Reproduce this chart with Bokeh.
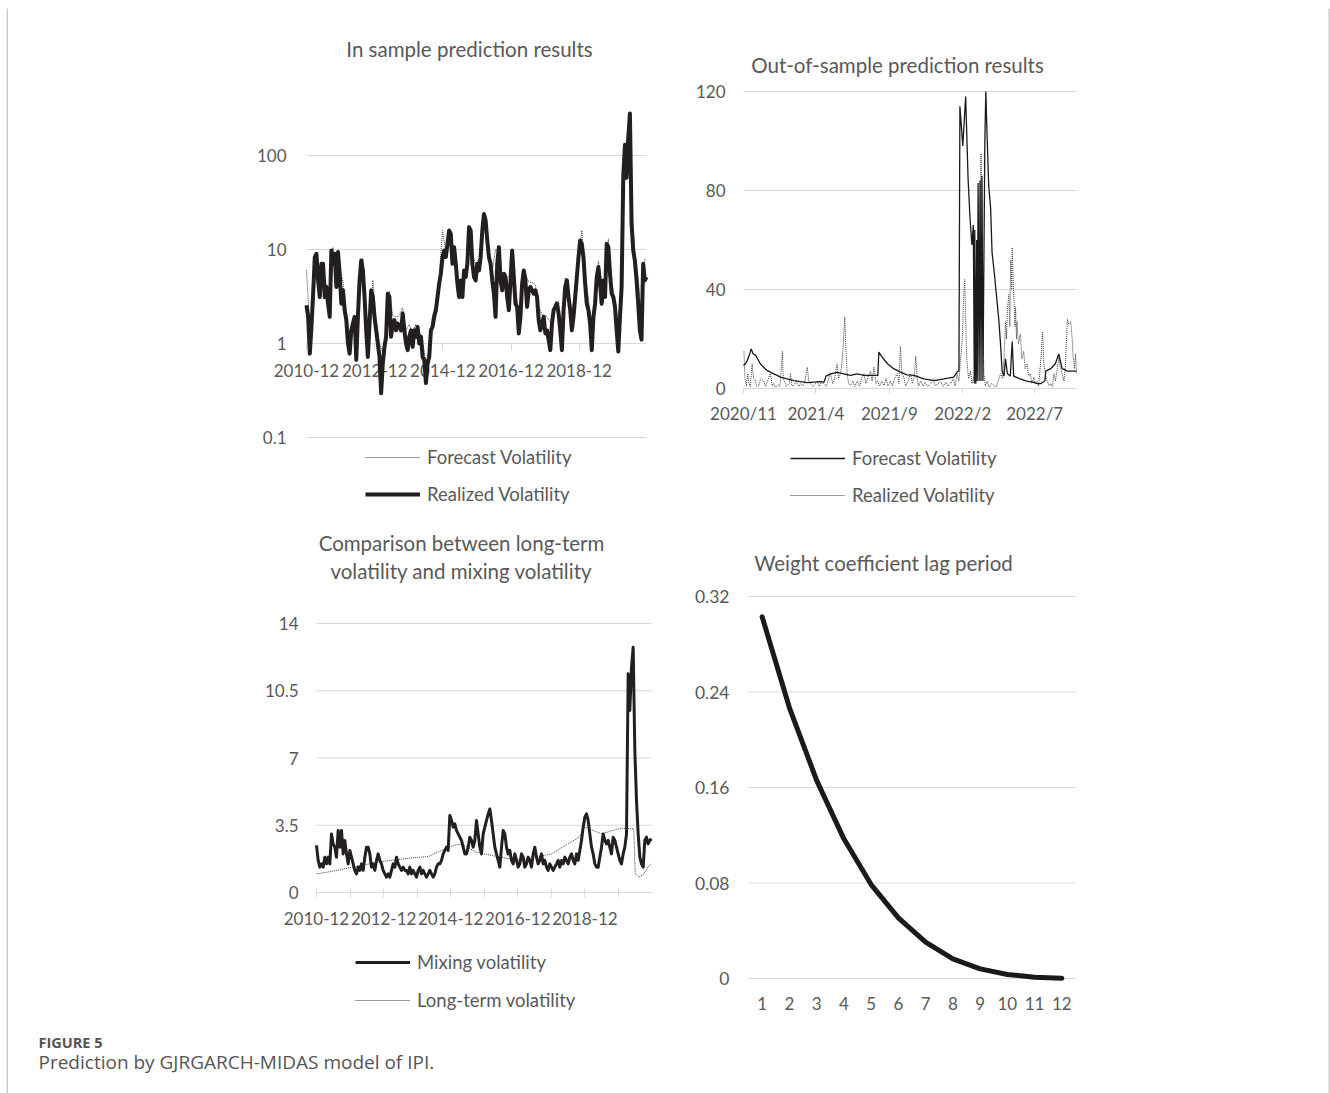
import pandas as pd
from bokeh.plotting import figure
from bokeh.models import Range1d, FixedTicker, Legend, LegendItem, Label, ColumnDataSource
from bokeh.layouts import column, row
from bokeh.embed import file_html
from bokeh.resources import INLINE
from bokeh.core.properties import value

FONT = "Lato"
TXT = "#595959"
GRID = "#d9d9d9"
INK = "#231f20"

# ---------------- Panel 1: In sample prediction results (log scale) ----------------
P1_START, P1_END = "2010-12-01", "2020-11-22"
p1_realized = [
    2.55, 1.92, 0.78, 1.50, 3.39, 8.29, 9.0, 4.69, 3.12, 7.05,
    7.05, 3.12, 3.99, 2.65, 1.92, 9.75, 7.05, 9.0, 3.99, 9.4,
    5.52, 2.65, 3.68, 2.26, 1.77, 1.0, 0.78, 1.38, 1.63, 1.92,
    0.67, 1.92, 4.69, 7.65, 5.99, 3.12, 1.38, 0.72, 1.63, 3.68,
    3.12, 1.92, 1.38, 1.0, 0.72, 0.295, 0.61, 0.92, 1.18, 3.39,
    3.12, 1.18, 1.63, 1.77, 1.38, 1.63, 1.50, 1.38, 2.08, 1.38,
    1.0, 0.85, 1.18, 1.38, 0.92, 1.38, 1.18, 1.50, 1.0, 1.18,
    0.72, 0.67, 0.38, 0.61, 0.72, 1.38, 1.50, 1.92, 2.26, 3.12,
    4.33, 5.52, 8.29, 9.75, 8.29, 11.5, 15.9, 14.7, 7.05, 10.6,
    7.05, 4.33, 3.12, 4.69, 3.12, 5.99, 5.09, 7.05, 17.3, 15.9,
    7.05, 5.09, 4.69, 7.05, 5.99, 8.29, 15.9, 23.9, 20.3, 12.5,
    8.29, 7.05, 4.69, 3.39, 1.92, 7.05, 10.6, 4.69, 3.68, 5.52,
    5.09, 3.12, 2.26, 4.69, 9.75, 5.09, 2.65, 2.45, 1.28, 1.92,
    4.33, 5.99, 4.69, 2.45, 3.68, 3.99, 3.68, 3.39, 3.68, 3.12,
    1.77, 1.38, 1.63, 1.92, 1.28, 1.38, 1.085, 0.85, 1.63, 2.26,
    2.45, 2.65, 2.08, 1.38, 0.85, 2.26, 3.99, 4.69, 3.12, 2.26,
    1.38, 1.92, 3.12, 5.09, 8.29, 12.5, 11.5, 8.29, 4.33, 2.65,
    2.26, 1.63, 0.85, 1.92, 2.65, 5.09, 6.50, 4.33, 2.65, 4.69,
    3.12, 11.5, 10.6, 5.52, 3.39, 3.12, 2.45, 1.38, 0.82, 1.92,
    3.99, 60, 130, 58, 150, 280, 19, 9.8, 7.6, 4.7,
    2.65, 1.38, 1.1, 7.05, 4.69, 5.09,
]
p1_forecast = [
    6.0, 1.5, 2.5, 8.0, 3.5, 6.5, 4.0, 2.5, 10.5, 5.0,
    6.5, 4.5, 2.2, 1.2, 1.8, 1.2, 4.0, 8.0, 2.0, 1.5,
    4.7, 1.8, 1.0, 0.8, 1.2, 3.6, 2.0, 1.9, 2.0, 2.4,
    1.4, 1.6, 1.3, 1.6, 1.3, 1.1, 0.6, 0.9, 2.0, 2.6,
    5.0, 15.9, 9.5, 14.0, 9.0, 8.0, 4.0, 4.5, 6.0, 15.0,
    9.0, 7.0, 8.0, 14.0, 21.0, 10.0, 6.0, 10.0, 9.5, 5.0,
    5.5, 3.5, 7.5, 4.0, 2.0, 5.0, 5.5, 4.5, 4.5, 4.2,
    2.5, 2.0, 2.0, 1.8, 1.6, 2.8, 2.8, 1.2, 5.0, 3.8,
    2.2, 3.5, 9.0, 16.0, 5.5, 3.0, 1.5, 2.8, 7.5, 4.5,
    5.0, 13.0, 4.5, 3.0, 1.5, 4.2, 110, 200, 30, 9.0,
    5.0, 1.8, 8.0,
]
p1_tick_labels = ["2010-12", "2012-12", "2014-12", "2016-12", "2018-12"]
p1_y_ticks = [0.1, 1, 10, 100]
p1_y_labels = ["0.1", "1", "10", "100"]

# ---------------- Panel 2: Out-of-sample prediction results ----------------
P2_START, P2_END = "2020-11-01", "2022-09-26"
p2_fc_day = [0, 4, 8, 13, 16, 20, 25, 28, 35, 42, 49, 56, 63, 70, 77, 91, 105, 119, 133, 147,
             161, 168, 172, 181, 195, 209, 223, 237, 251, 265, 280, 282, 289, 300, 313, 327, 341, 355, 376, 397,
             418, 438, 445, 449, 451, 457, 463, 468, 472, 476, 479, 481, 482, 484, 486, 487, 489, 491, 493, 495,
             497, 499, 503, 505, 508, 511, 515, 518, 522, 525, 532, 536, 539, 543, 546, 550, 556, 560, 563, 575,
             590, 605, 612, 620, 628, 630, 640, 650, 657, 664, 675, 689, 694]
p2_fc_val = [9.3, 10.0, 11.4, 14.0, 16.0, 14.0, 13.5, 12.5, 10.0, 8.6, 7.3, 6.6, 5.9, 5.3, 4.6, 3.9, 3.2, 2.8, 2.4, 2.6,
             2.8, 2.6, 5.0, 5.9, 6.5, 5.9, 5.3, 5.9, 5.3, 5.3, 5.3, 14.7, 12.7, 10.0, 8.0, 6.6, 5.5, 5.3, 3.9, 3.2,
             3.9, 4.6, 6.6, 7.3, 114, 98, 118, 85, 69, 58, 66, 2, 64, 2, 60, 3, 83, 3, 84, 3,
             86, 3, 100, 120, 100, 82, 73, 55, 48, 42, 28, 17, 7, 5, 12, 6, 5, 19, 5, 4,
             3, 2.5, 2, 2, 3, 7, 8, 10, 14, 8, 7, 7, 7]
p2_rv_day = [
    1, 3, 6, 9, 11, 14, 18, 21, 25, 28,
    32, 36, 42, 46, 50, 56, 60, 63, 67, 72,
    75, 77, 81, 83, 85, 90, 95, 98, 101, 105,
    110, 115, 119, 124, 128, 133, 136, 140, 145, 150,
    154, 158, 162, 167, 172, 176, 181, 186, 190, 195,
    198, 202, 206, 209, 211, 213, 216, 219, 223, 228,
    232, 237, 242, 246, 251, 255, 260, 265, 268, 272,
    276, 279, 284, 288, 293, 297, 301, 306, 310, 315,
    320, 324, 327, 330, 334, 338, 343, 348, 352, 356,
    359, 362, 365, 369, 374, 379, 384, 390, 395, 400,
    405, 411, 416, 421, 426, 432, 437, 441, 445, 449,
    452, 456, 459, 461, 463, 465, 469, 473, 476, 480,
    484, 487, 489, 491, 493, 495, 497, 498, 500, 501,
    504, 508, 512, 517, 522, 526, 531, 536, 540, 543,
    546, 548, 550, 553, 555, 557, 559, 560, 562, 564,
    566, 567, 569, 570, 573, 577, 580, 584, 587, 591,
    594, 598, 601, 605, 608, 612, 615, 619, 621, 623,
    625, 626, 630, 633, 637, 641, 644, 647, 650, 654,
    657, 660, 664, 668, 671, 675, 678, 682, 685, 687,
    690, 692, 694,
]
p2_rv_val = [
    15, 4, 1, 6, 2.5, 0.8, 10, 4, 3, 0.8,
    1.2, 4, 3, 0.8, 3, 6, 1, 2, 0.5, 1.5,
    0.8, 3, 15, 4, 3, 0.8, 2, 6, 1, 1.2,
    3, 0.8, 2, 1, 3, 8.6, 3, 2, 0.8, 2,
    3, 0.8, 2.5, 2, 0.8, 3, 6, 2, 4, 10,
    4, 6, 12, 22, 29, 18, 6, 2, 1.2, 3,
    0.8, 3, 1, 4, 6, 2, 5, 7, 3, 8.6,
    2, 3, 1, 3, 1.2, 4, 1, 3, 1, 4,
    6, 2, 17, 6, 4.6, 1, 3, 6, 2, 5,
    13, 4, 1, 3, 1, 2.5, 0.8, 2, 4, 1,
    2, 2.6, 0.8, 2.5, 1, 2, 4, 1, 6, 3,
    11, 20, 38, 44, 30, 12.6, 4, 7, 2, 4.6,
    2, 6, 15, 40, 70, 95, 70, 44, 15, 6,
    1, 3, 0.5, 2, 1.2, 0.5, 3, 6, 4, 12,
    27, 20, 32, 38, 25, 52, 40, 57, 45, 34,
    25, 33, 20, 27, 18, 22, 12, 15, 8, 10,
    5, 6, 2, 4.6, 2, 3, 1, 10, 15, 23,
    15, 10, 5, 3, 1, 2, 0.8, 6, 3, 8,
    12.6, 9, 6, 3, 10, 28, 26, 27, 20, 12.6,
    8, 14, 6,
]
p2_tick_dates = ["2020-11-01", "2021-04-01", "2021-09-01", "2022-02-01", "2022-07-01"]
p2_tick_labels = ["2020/11", "2021/4", "2021/9", "2022/2", "2022/7"]
p2_y_ticks = [0, 40, 80, 120]
p2_y_labels = ["0", "40", "80", "120"]

# ---------------- Panel 3: long-term vs mixing volatility ----------------
P3_START, P3_END = "2010-12-01", "2020-11-25"
p3_mixing = [
    2.45, 1.67, 1.32, 1.49, 1.32, 1.84, 1.49, 1.84, 1.49, 3.05,
    2.53, 2.36, 1.84, 3.23, 2.36, 3.23, 2.01, 2.71, 2.01, 1.49,
    2.19, 1.84, 1.49, 1.15, 0.97, 1.32, 1.15, 1.49, 1.15, 1.84,
    2.36, 2.36, 2.01, 1.32, 1.49, 1.15, 1.67, 2.01, 1.67, 1.49,
    1.15, 0.97, 0.80, 0.97, 0.80, 1.15, 1.49, 1.32, 1.84, 1.49,
    1.32, 1.15, 1.32, 1.15, 1.15, 0.97, 1.32, 0.97, 1.15, 0.97,
    0.80, 1.15, 1.32, 0.97, 1.15, 0.97, 0.80, 0.97, 1.15, 0.97,
    0.80, 0.97, 1.32, 1.49, 1.49, 1.67, 2.01, 2.19, 2.36, 2.19,
    4.01, 3.75, 3.40, 3.57, 3.23, 3.05, 2.88, 2.71, 2.36, 2.01,
    2.01, 2.36, 2.88, 2.71, 2.36, 2.71, 3.75, 3.05, 2.36, 2.01,
    3.05, 3.40, 3.75, 4.09, 4.35, 3.75, 3.05, 2.36, 2.01, 1.67,
    1.32, 2.36, 3.23, 3.05, 2.36, 2.01, 2.19, 1.67, 1.49, 2.01,
    1.67, 1.32, 1.49, 2.01, 1.84, 1.32, 1.49, 1.84, 1.67, 1.32,
    2.01, 2.36, 1.84, 1.49, 1.67, 2.01, 1.49, 1.67, 1.32, 1.15,
    1.49, 1.32, 1.15, 1.32, 1.49, 1.67, 1.32, 1.67, 1.49, 1.84,
    1.67, 1.49, 1.84, 2.01, 1.67, 1.49, 2.01, 1.67, 2.19, 2.71,
    3.40, 3.92, 4.09, 3.75, 3.05, 2.36, 2.01, 1.49, 1.32, 1.32,
    1.84, 2.36, 3.05, 2.71, 2.53, 2.71, 2.36, 2.01, 2.88, 2.71,
    2.36, 2.01, 1.67, 1.49, 2.01, 2.36, 3.05, 11.38, 9.47, 11.73,
    12.77, 7.39, 4.79, 3.05, 1.84, 1.49, 1.32, 2.71, 2.88, 2.53,
    2.71, 2.79,
]
p3_lt_dates = ["2010-12-01", "2011-04-01", "2011-10-01", "2012-04-01", "2012-10-01", "2013-04-01",
               "2013-10-01", "2014-04-01", "2014-06-01", "2014-10-01", "2015-01-01", "2015-04-01",
               "2015-06-01", "2015-09-01", "2016-03-01", "2016-09-01", "2017-03-01", "2017-09-01",
               "2017-12-01", "2018-03-01", "2018-06-01", "2018-10-01", "2018-12-01", "2019-03-01",
               "2019-06-01", "2019-10-01", "2020-01-01", "2020-05-15", "2020-06-01", "2020-07-15",
               "2020-09-01", "2020-10-15", "2020-11-25"]
p3_lt_val = [0.97, 1.06, 1.23, 1.41, 1.58, 1.70, 1.80, 1.87, 2.01, 2.27, 2.45, 2.53, 2.36, 2.10,
             1.92, 1.75, 1.67, 1.92, 2.01, 2.27, 2.53, 2.88, 3.40, 3.23, 3.05, 3.23, 3.35, 3.31,
             0.97, 0.80, 0.97, 1.32, 1.49]
p3_tick_dates = ["2010-12-01", "2011-12-01", "2012-12-01", "2013-12-01", "2014-12-01",
                 "2015-12-01", "2016-12-01", "2017-12-01", "2018-12-01", "2019-12-01"]
p3_tick_labels = ["2010-12", "", "2012-12", "", "2014-12", "", "2016-12", "", "2018-12", ""]
p3_y_ticks = [0, 3.5, 7, 10.5, 14]
p3_y_labels = ["0", "3.5", "7", "10.5", "14"]

# ---------------- Panel 4: weight coefficient ----------------
p4_lag = [1, 2, 3, 4, 5, 6, 7, 8, 9, 10, 11, 12]
p4_weight = [0.303, 0.227, 0.166, 0.117, 0.0787, 0.0508, 0.0304, 0.0165, 0.0081, 0.0034, 0.0011, 0.0003]
p4_y_ticks = [0, 0.08, 0.16, 0.24, 0.32]
p4_y_labels = ["0", "0.08", "0.16", "0.24", "0.32"]


def ms(d):
    return pd.Timestamp(d).value / 1e6


def extend(lo_px, hi_px, a_px, a_val, b_px, b_val):
    k = (b_val - a_val) / (b_px - a_px)
    return a_val + (lo_px - a_px) * k, a_val + (hi_px - a_px) * k


# panel rectangles on the page: (left, top, right, bottom)
R1 = (8, 8, 680, 520)
R2 = (680, 8, 1328, 520)
R3 = (8, 520, 680, 1030)
R4 = (680, 520, 1328, 1030)


def make_panel(rect, xr, yr, **kw):
    l, t, r, b = rect
    p = figure(width=r - l, height=b - t, x_range=xr, y_range=yr, title=None,
               output_backend="svg", toolbar_location=None, min_border=0,
               min_border_left=0, min_border_right=0, min_border_top=0, min_border_bottom=0, **kw)
    p.outline_line_color = None
    p.background_fill_color = "white"
    p.border_fill_color = "white"
    p.grid.visible = False
    for ax in p.axis:
        ax.major_label_text_font = FONT
        ax.major_label_text_font_size = "17px"
        ax.major_label_text_color = TXT
        ax.minor_tick_line_color = None
    return p


def style_yaxis(p, ticks, labels, x_at, x_end, standoff=18, size="17px"):
    ya = p.yaxis[0]
    ya.ticker = FixedTicker(ticks=ticks)
    ya.major_label_overrides = {k: s for k, s in zip(ticks, labels)}
    ya.fixed_location = x_at
    ya.axis_line_color = None
    ya.major_tick_line_color = None
    ya.major_tick_in = 0
    ya.major_tick_out = 0
    ya.major_label_standoff = standoff
    ya.major_label_text_font_size = size
    # horizontal gridlines spanning the plot area only
    p.segment(x0=[x_at] * len(ticks), x1=[x_end] * len(ticks), y0=ticks, y1=ticks,
              line_color=GRID, line_width=1, level="underlay")


def style_xaxis(p, ticks, labels, y_at, bounds, tick_out, tick_in, standoff, line=True):
    xa = p.xaxis[0]
    xa.ticker = FixedTicker(ticks=ticks)
    xa.major_label_overrides = {t: s for t, s in zip(ticks, labels)}
    xa.fixed_location = y_at
    xa.bounds = bounds
    xa.axis_line_color = GRID if line else None
    xa.major_tick_line_color = GRID if line else None
    xa.major_tick_out = tick_out
    xa.major_tick_in = tick_in
    xa.major_label_standoff = standoff


def add_title(p, text, x, y):
    p.add_layout(Label(x=x, y=y, x_units="screen", y_units="screen", text=text,
                       text_align="center", text_baseline="middle", text_font=FONT,
                       text_font_size="20.5px", text_color=TXT))


def add_legend(p, items, x, y, spacing):
    leg = Legend(items=[LegendItem(label=s, renderers=[r]) for s, r in items],
                 location=(x, y), orientation="vertical", glyph_width=55, glyph_height=20,
                 label_standoff=7, spacing=spacing, padding=0, margin=0,
                 border_line_color=None, background_fill_alpha=0,
                 label_text_font=FONT, label_text_font_size="18.5px", label_text_color=TXT)
    p.add_layout(leg)


# ---- Panel 1
x1 = extend(R1[0], R1[2], 306, ms(P1_START), 646, ms(P1_END))
ly1 = extend(R1[3], R1[1], 437, -1.0, 155, 2.0)
p1 = make_panel(R1, Range1d(*x1), Range1d(10 ** ly1[0], 10 ** ly1[1]),
                x_axis_type="datetime", y_axis_type="log")
style_yaxis(p1, p1_y_ticks, p1_y_labels, ms(P1_START), ms(P1_END), standoff=20)
style_xaxis(p1, [ms(s + "-01") for s in p1_tick_labels], p1_tick_labels, 1,
            (ms(P1_START), ms(P1_END)), 7, 0, 13)
p1_dates = pd.date_range(P1_START, P1_END, periods=len(p1_realized))
src1 = ColumnDataSource(dict(x=p1_dates, y=p1_realized))
src1f = ColumnDataSource(dict(x=p1_dates[::2], y=p1_forecast))
r1f = p1.line("x", "y", source=src1f, line_color="#3f3f3f", line_width=1, line_dash="1 1")
r1r = p1.line("x", "y", source=src1, line_color=INK, line_width=4, line_join="round")
r1r.level = "overlay"
add_title(p1, "In sample prediction results", 461, 472)
add_legend(p1, [("Forecast Volatility", r1f), ("Realized Volatility", r1r)], 357, 14.9, 15)

# ---- Panel 2
x2 = extend(R2[0], R2[2], 743, ms(P2_START), 1076, ms(P2_END))
y2 = extend(R2[3], R2[1], 388, 0, 91, 120)
p2 = make_panel(R2, Range1d(*x2), Range1d(*y2), x_axis_type="datetime")
style_yaxis(p2, p2_y_ticks, p2_y_labels, ms(P2_START), ms(P2_END))
style_xaxis(p2, [ms(d) for d in p2_tick_dates], p2_tick_labels, 0,
            (ms(P2_START), ms(P2_END)), 5, 0, 9)
t0 = pd.Timestamp(P2_START)
src2f = ColumnDataSource(dict(x=[t0 + pd.Timedelta(days=d) for d in p2_fc_day], y=p2_fc_val))
src2r = ColumnDataSource(dict(x=[t0 + pd.Timedelta(days=d) for d in p2_rv_day], y=p2_rv_val))
r2r = p2.line("x", "y", source=src2r, line_color="#404040", line_width=1, line_dash="1 1")
r2f = p2.line("x", "y", source=src2f, line_color="#1a1a1a", line_width=1.3)
add_title(p2, "Out-of-sample prediction results", 217, 456)
add_legend(p2, [("Forecast Volatility", r2f), ("Realized Volatility", r2r)], 110, 13.9, 15)

# ---- Panel 3
x3 = extend(R3[0], R3[2], 316, ms(P3_START), 651, ms(P3_END))
y3 = extend(R3[3], R3[1], 892, 0, 623, 14)
p3 = make_panel(R3, Range1d(*x3), Range1d(*y3), x_axis_type="datetime")
style_yaxis(p3, p3_y_ticks, p3_y_labels, ms(P3_START), ms(P3_END))
style_xaxis(p3, [ms(d) for d in p3_tick_dates], p3_tick_labels, 0,
            (ms(P3_START), ms(P3_END)), 5, 4, 14)
p3_dates = pd.date_range(P3_START, P3_END, periods=len(p3_mixing))
src3m = ColumnDataSource(dict(x=p3_dates, y=p3_mixing))
src3l = ColumnDataSource(dict(x=pd.to_datetime(p3_lt_dates), y=p3_lt_val))
r3l = p3.line("x", "y", source=src3l, line_color="#3f3f3f", line_width=1, line_dash="1 1")
r3m = p3.line("x", "y", source=src3m, line_color=INK, line_width=3, line_join="round")
add_title(p3, "Comparison between long-term", 453, 488)
add_title(p3, "volatility and mixing volatility", 453, 460)
add_legend(p3, [("Mixing volatility", r3m), ("Long-term volatility", r3l)], 347, 18.9, 16)

# ---- Panel 4
x4 = extend(R4[0], R4[2], 748, 0.5, 1075, 12.5)
y4 = extend(R4[3], R4[1], 978, 0, 596, 0.32)
p4 = make_panel(R4, Range1d(*x4), Range1d(*y4))
style_yaxis(p4, p4_y_ticks, p4_y_labels, 0.5, 12.5, standoff=19, size="17.5px")
style_xaxis(p4, p4_lag, [str(v) for v in p4_lag], 0, (0.5, 12.5), 0, 0, 18, line=False)
src4 = ColumnDataSource(dict(x=p4_lag, y=p4_weight))
p4.line("x", "y", source=src4, line_color="#1a1a1a", line_width=5, line_cap="round", line_join="round")
add_title(p4, "Weight coefficient lag period", 203, 468)

# ---- Caption
cap = figure(width=1320, height=63, x_range=Range1d(0, 1320), y_range=Range1d(63, 0),
             output_backend="svg", toolbar_location=None, title=None,
             x_axis_location=None, y_axis_location=None, min_border=0)
cap.outline_line_color = None
cap.grid.visible = False
cap.text(x=[30], y=[12], text=["FIGURE 5"], text_font=value("Open Sans"), text_font_size="14.5px",
         text_font_style="bold", text_color="#555555", text_baseline="middle")
cap.text(x=[30], y=[31], text=["Prediction by GJRGARCH-MIDAS model of IPI."], text_font=value("Open Sans"),
         text_font_size="19px", text_color="#555555", text_baseline="middle")


def strip(w, h, left=0, top=0):
    s = figure(width=w, height=h, output_backend="svg", toolbar_location=None, title=None,
               x_axis_location=None, y_axis_location=None, min_border=0,
               min_border_left=left, min_border_top=top, min_border_right=0, min_border_bottom=0,
               x_range=Range1d(0, 1), y_range=Range1d(0, 1))
    s.outline_line_color = None
    s.grid.visible = False
    s.background_fill_color = "#cccccc"
    s.border_fill_color = "white"
    return s


main = column(row(p1, p2), row(p3, p4), cap)
layout = column(strip(1330, 8, top=6), row(strip(8, 1085, left=6), main, strip(2, 1085)))

open("out.html", "w").write(file_html(layout, INLINE))
